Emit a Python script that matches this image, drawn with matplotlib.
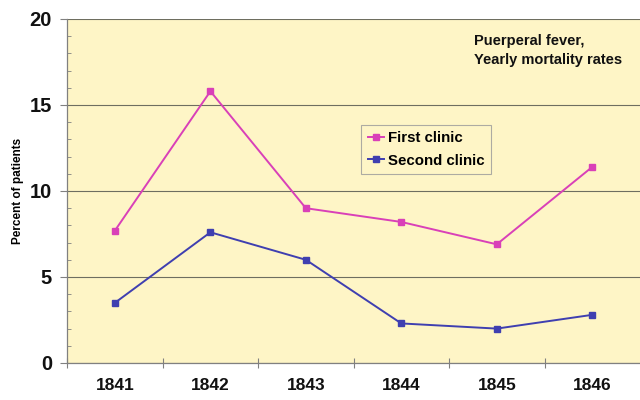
import matplotlib

matplotlib.use("Agg")
import matplotlib.pyplot as plt
from matplotlib.ticker import MultipleLocator

plt.rcParams["font.family"] = ["Liberation Sans", "DejaVu Sans"]

YEARS = ["1841", "1842", "1843", "1844", "1845", "1846"]
FIRST_CLINIC = [7.7, 15.8, 9.0, 8.2, 6.9, 11.4]
SECOND_CLINIC = [3.5, 7.6, 6.0, 2.3, 2.0, 2.8]

PANEL = "#fef5c6"
PINK = "#d940b8"
BLUE = "#3f3fb0"
AXIS_GREY = "#808080"

fig = plt.figure(figsize=(6.4, 4.0), dpi=100)
ax = fig.add_axes([0.105, 0.0925, 0.895, 0.86])
ax.set_facecolor(PANEL)

x = range(len(YEARS))
ax.plot(x, FIRST_CLINIC, color=PINK, linewidth=1.4, marker="s", markersize=4, label="First clinic")
ax.plot(x, SECOND_CLINIC, color=BLUE, linewidth=1.4, marker="s", markersize=4, label="Second clinic")

ax.set_xlim(-0.5, len(YEARS) - 0.5)
ax.set_ylim(0, 20)

# y axis: major ticks outside with labels, minor ticks inside
ax.yaxis.set_major_locator(MultipleLocator(5))
ax.yaxis.set_minor_locator(MultipleLocator(1))
ax.tick_params(axis="y", which="major", direction="out", length=5, width=0.8, color=AXIS_GREY, pad=6)
ax.tick_params(axis="y", which="minor", direction="in", length=3, width=0.6, color=AXIS_GREY)
for lbl in ax.get_yticklabels():
    lbl.set_fontweight("bold")
    lbl.set_fontsize(14.5)
    lbl.set_color("#111111")
ax.yaxis.grid(True, color="#6e6e60", linewidth=0.8)
ax.set_axisbelow(True)

# x axis: labels at category centres, ticks crossing the axis on category boundaries
ax.set_xticks(list(x))
ax.set_xticklabels(YEARS, fontsize=12.5, fontweight="bold", color="#111111")
ax.tick_params(axis="x", which="major", length=0, pad=11)
ax.set_xticks([i - 0.5 for i in x], minor=True)
ax.tick_params(axis="x", which="minor", direction="inout", length=7, width=0.8, color=AXIS_GREY)

for side in ("top", "right"):
    ax.spines[side].set_visible(False)
for side in ("left", "bottom"):
    ax.spines[side].set_color(AXIS_GREY)
    ax.spines[side].set_linewidth(0.9)

ax.set_ylabel("Percent of patients", fontsize=8.5, fontweight="bold")
ax.yaxis.set_label_coords(-0.076, 0.5)

ax.text(0.71, 0.955, "Puerperal fever,\nYearly mortality rates", transform=ax.transAxes,
        fontsize=10.5, fontweight="bold", color="#111111", va="top", ha="left", linespacing=1.45)

leg = ax.legend(loc="upper left", bbox_to_anchor=(0.5, 0.715), frameon=True,
                fancybox=False, handlelength=1.1, handletextpad=0.25, borderpad=0.45,
                labelspacing=0.55, prop={"weight": "bold", "size": 10.8})
leg.get_frame().set_facecolor(PANEL)
leg.get_frame().set_edgecolor("#999999")
leg.get_frame().set_linewidth(0.8)

fig.savefig("out.png", dpi=100, facecolor="white")
